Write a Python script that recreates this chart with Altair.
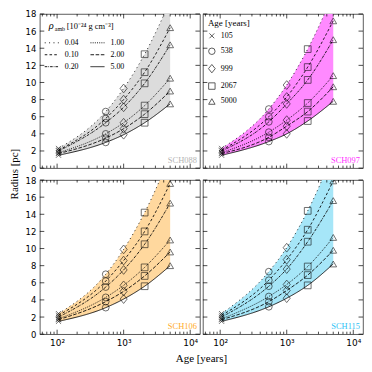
import altair as alt
import pandas as pd

# ---------------- data ----------------
panels = ["SCH088", "SCH097", "SCH106", "SCH115"]
ages = [105, 538, 999, 2067, 5000]
age_labels = ["105", "538", "999", "2067", "5000"]
densities = ["0.04", "0.10", "0.20", "1.00", "2.00", "5.00"]

# radius [pc] per density (rows) and age (columns)
sch088 = [
    [2.3, 6.6, 9.3, 13.3, 19.5],
    [2.1, 5.8, 8.0, 11.2, 16.4],
    [2.0, 5.3, 7.1, 9.9, 14.4],
    [1.8, 4.0, 5.3, 7.3, 10.5],
    [1.7, 3.5, 4.6, 6.3, 9.0],
    [1.5, 3.0, 3.9, 5.3, 7.5],
]
sch097 = [
    [2.3, 6.9, 9.7, 13.9, 20.3],
    [2.1, 6.0, 8.3, 11.8, 17.2],
    [2.0, 5.4, 7.5, 10.3, 15.0],
    [1.8, 4.2, 5.6, 7.6, 10.8],
    [1.7, 3.6, 4.9, 6.6, 9.5],
    [1.5, 3.1, 4.0, 5.5, 7.8],
]
sch106 = [
    [2.4, 7.0, 9.9, 14.2, 20.8],
    [2.2, 6.2, 8.6, 12.0, 17.6],
    [2.0, 5.5, 7.5, 10.5, 15.3],
    [1.8, 4.3, 5.7, 7.8, 11.0],
    [1.7, 3.8, 5.0, 6.8, 9.6],
    [1.5, 3.1, 4.1, 5.6, 8.0],
]
sch115 = [
    [2.4, 7.3, 10.1, 14.4, 21.1],
    [2.2, 6.3, 8.7, 12.2, 17.9],
    [2.0, 5.6, 7.6, 10.8, 15.6],
    [1.8, 4.4, 5.8, 7.9, 11.3],
    [1.7, 3.8, 5.1, 6.9, 9.8],
    [1.5, 3.2, 4.2, 5.7, 8.2],
]
panel_values = [sch088, sch097, sch106, sch115]

band_colors = ["#dcdcdc", "#ff8aff", "#ffd89e", "#a6e6f8"]
label_colors = ["#b4b4b4", "#ff33ff", "#ffab1f", "#2ec2f5"]

y_ticks = [0, 2, 4, 6, 8, 10, 12, 14, 16, 18]
x_major = [100, 1000, 10000]
x_minor = [60, 70, 80, 90, 200, 300, 400, 500, 600, 700, 800, 900,
           2000, 3000, 4000, 5000, 6000, 7000, 8000, 9000]

# ---------------- styling ----------------
W, H = 161, 155
XDOM = [55, 14000]
YDOM = [0, 18]
SERIF = "Liberation Serif"
SANS = "DejaVu Sans"

dash_style = {"0.04": [1, 3.4], "0.10": [2.6, 2.2], "0.20": [2.6, 1, 0.8, 1],
              "1.00": [1, 1.2], "2.00": [3.6, 1.6], "5.00": [1, 0]}
x_path = "M-0.75,-0.75L0.75,0.75M-0.75,0.75L0.75,-0.75"
diamond_path = "M0,-1.3L1.05,0L0,1.3L-1.05,0Z"
shape_range = [x_path, "circle", diamond_path, "square", "triangle-up"]

xscale = alt.Scale(type="log", domain=XDOM, nice=False)
yscale = alt.Scale(domain=YDOM, nice=False, zero=False)


def one():
    return pd.DataFrame({"a": [0]})


def panel(i, show_x, show_y, dens_legend, age_legend):
    vals = panel_values[i]
    rows = []
    for d, series in zip(densities, vals):
        for a, al, r in zip(ages, age_labels, series):
            rows.append({"age": a, "age_label": al, "density": d, "radius": r})
    df = pd.DataFrame(rows)
    band = pd.DataFrame({"age": ages, "top": vals[0], "bottom": vals[-1]})

    xaxis = alt.Axis(values=x_major, ticks=False, domain=False, grid=False,
                     labelExpr="datum.value == 100 ? '10²' : datum.value == 1000 ? '10³' : '10⁴'",
                     labelFont=SANS, labelFontSize=9, labelPadding=4, labelColor="black",
                     title=None) if show_x else None
    yaxis = alt.Axis(values=y_ticks, ticks=False, domain=False, grid=False,
                     labelFont=SANS, labelFontSize=8.5, labelPadding=4, labelColor="black",
                     title=None) if show_y else None

    X = lambda f: alt.X(f, scale=xscale, axis=xaxis)
    Y = lambda f: alt.Y(f, scale=yscale, axis=yaxis)

    area = alt.Chart(band).mark_area(interpolate="monotone", clip=True,
                                     color=band_colors[i], opacity=1).encode(
        x=X("age:Q"), y=Y("top:Q"), y2="bottom:Q")

    if dens_legend:
        leg = alt.Legend(orient="none", legendX=4, legendY=21, title=None,
                         columns=2, columnPadding=10, rowPadding=0,
                         symbolType="stroke", symbolSize=200, symbolStrokeWidth=0.9,
                         symbolStrokeColor="black", labelFont=SERIF, labelFontSize=8,
                         labelOffset=5, labelColor="black")
    else:
        leg = None
    lines = alt.Chart(df).mark_line(interpolate="monotone", clip=True,
                                    color="black", strokeWidth=0.85).encode(
        x=X("age:Q"), y=Y("radius:Q"),
        strokeDash=alt.StrokeDash("density:N",
                                  scale=alt.Scale(domain=densities,
                                                  range=[dash_style[d] for d in densities]),
                                  legend=leg),
    )

    if age_legend:
        aleg = alt.Legend(orient="none", legendX=5, legendY=5, title="Age [years]",
                          titleFont=SERIF, titleFontSize=9, titleFontWeight="normal",
                          titleColor="black", titlePadding=4,
                          labelFont=SERIF, labelFontSize=8, labelColor="black",
                          labelOffset=5, rowPadding=4.5,
                          symbolSize=42, symbolStrokeWidth=0.9,
                          symbolStrokeColor="black", symbolFillColor="transparent")
    else:
        aleg = None
    pts = alt.Chart(df).mark_point(filled=False, size=46, strokeWidth=0.8,
                                   color="black", clip=True).encode(
        x=X("age:Q"), y=Y("radius:Q"),
        shape=alt.Shape("age_label:N",
                        scale=alt.Scale(domain=age_labels, range=shape_range),
                        legend=aleg),
    )

    tx = pd.DataFrame({"t": x_major})
    txm = pd.DataFrame({"t": x_minor})
    ty = pd.DataFrame({"t": y_ticks})
    tick_layers = []
    for data, ln in ((tx, 4.5), (txm, 2.5)):
        tick_layers.append(alt.Chart(data).mark_rule(color="black", strokeWidth=0.7).encode(
            x=X("t:Q"), y=alt.value(H), y2=alt.value(H - ln)))
        tick_layers.append(alt.Chart(data).mark_rule(color="black", strokeWidth=0.7).encode(
            x=X("t:Q"), y=alt.value(0), y2=alt.value(ln)))
    tick_layers.append(alt.Chart(ty).mark_rule(color="black", strokeWidth=0.7).encode(
        y=Y("t:Q"), x=alt.value(0), x2=alt.value(4.5)))
    tick_layers.append(alt.Chart(ty).mark_rule(color="black", strokeWidth=0.7).encode(
        y=Y("t:Q"), x=alt.value(W - 4.5), x2=alt.value(W)))

    label = alt.Chart(one()).mark_text(align="right", baseline="alphabetic",
                                       font=SERIF, fontSize=8.5,
                                       color=label_colors[i]).encode(
        x=alt.value(W - 3), y=alt.value(H - 5), text=alt.value(panels[i]))

    layers = [area, lines, pts] + tick_layers + [label]

    if dens_legend:
        layers.append(alt.Chart(one()).mark_text(align="left", baseline="alphabetic",
                                                 font=SERIF, fontSize=10.5, fontStyle="italic",
                                                 color="black").encode(
            x=alt.value(9), y=alt.value(15), text=alt.value("ρ")))
        layers.append(alt.Chart(one()).mark_text(align="left", baseline="alphabetic",
                                                 font=SERIF, fontSize=6,
                                                 color="black").encode(
            x=alt.value(15), y=alt.value(17), text=alt.value("amb")))
        layers.append(alt.Chart(one()).mark_text(align="left", baseline="alphabetic",
                                                 font=SERIF, fontSize=8.5,
                                                 color="black").encode(
            x=alt.value(27), y=alt.value(15), text=alt.value("[10⁻²⁴ g cm⁻³]")))
        layers.append(alt.Chart(one()).mark_text(align="center", baseline="middle",
                                                 font=SERIF, fontSize=11, angle=270,
                                                 color="black").encode(
            x=alt.value(-25), y=alt.value(H + 6), text=alt.value("Radius [pc]")))
    if i == 2:
        layers.append(alt.Chart(one()).mark_text(align="center", baseline="middle",
                                                 font=SERIF, fontSize=11,
                                                 color="black").encode(
            x=alt.value(W + 1.5), y=alt.value(H + 25), text=alt.value("Age [years]")))

    return alt.layer(*layers).properties(width=W, height=H)


chart = alt.concat(
    panel(0, False, True, True, False),
    panel(1, False, False, False, True),
    panel(2, True, True, False, False),
    panel(3, True, False, False, False),
    columns=2, spacing={"row": 12, "column": 3}, bounds="flush",
).resolve_scale(shape="independent", strokeDash="independent").properties(
    padding=0
).configure_view(stroke="#333333", strokeWidth=0.8)

chart.save("out.html", embed_options={"renderer": "svg", "actions": False})
